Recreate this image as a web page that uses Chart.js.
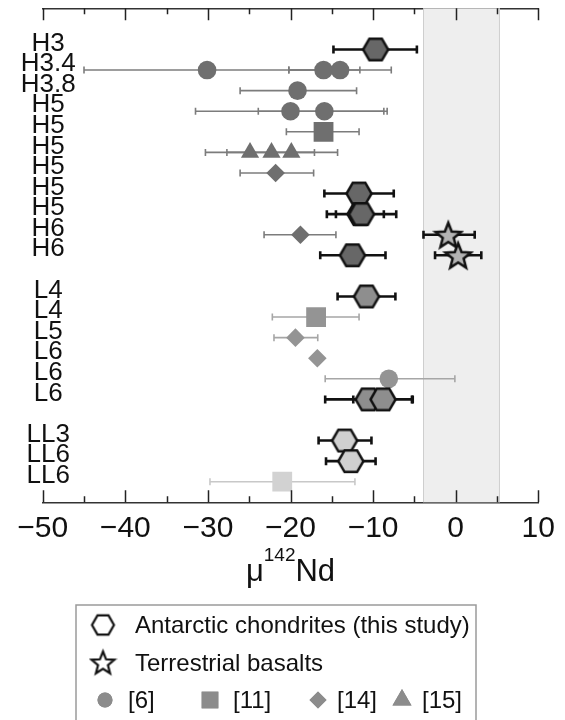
<!DOCTYPE html>
<html>
<head>
<meta charset="utf-8">
<script src="https://cdn.jsdelivr.net/npm/chart.js@4.4.1/dist/chart.umd.min.js"></script>
<style>
  html, body { margin: 0; padding: 0; background: #fff; }
  #chartCanvas { display: block; }
</style>
</head>
<body>
<canvas id="chartCanvas" width="565" height="720"></canvas>
<script>
// Row labels, top to bottom ('' = gap row between groups)
const rowLabels = ['H3', 'H3.4', 'H3.8', 'H5', 'H5', 'H5', 'H5', 'H5', 'H5', 'H6', 'H6', '',
                   'L4', 'L4', 'L5', 'L6', 'L6', 'L6', '', 'LL3', 'LL6', 'LL6'];

// x axis range and tick step
const xMin = -50, xMax = 10, xStep = 5;

// shaded terrestrial range
const bandLo = -3.9, bandHi = 5.3;

// Antarctic chondrites (this study)
const hexRows = [0, 7, 8, 8, 10, 12, 17, 17, 19, 20];
const hexVals = [-9.7, -11.7, -11.6, -11.4, -12.5, -10.8, -10.6, -8.8, -13.45, -12.7];
const hexLo   = [-14.8, -15.9, -14.5, -15.6, -16.4, -14.3, -15.8, -12.4, -16.6, -15.7];
const hexHi   = [-4.7, -7.5, -8.7, -7.2, -8.5, -7.3, -5.3, -5.2, -10.2, -9.7];

// Terrestrial basalts
const starRows = [9, 10];
const starVals = [-0.9, 0.3];
const starLo   = [-3.9, -2.5];
const starHi   = [2.3, 3.1];

// [6]
const circRows = [1, 1, 1, 2, 3, 3, 16];
const circVals = [-30.1, -16.0, -14.0, -19.15, -20.0, -15.9, -8.1];
const circLo   = [-45.0, -20.2, -20.2, -26.1, -31.5, -23.9, -15.8];
const circHi   = [-15.2, -11.6, -7.8, -12.0, -8.7, -8.3, -0.1];

// [11]
const sqRows = [4, 13, 21];
const sqVals = [-16.0, -16.9, -21.0];
const sqLo   = [-20.5, -22.2, -29.75];
const sqHi   = [-11.7, -11.7, -12.2];

// [14]
const diaRows = [6, 9, 14, 15];
const diaVals = [-21.8, -18.8, -19.4, -16.75];
const diaLo   = [-26.1, -23.2, -22.0, null];
const diaHi   = [-17.2, -14.5, -16.7, null];

// [15]
const triRows = [5, 5, 5];
const triVals = [-24.9, -22.3, -19.9];
const triLo   = [-27.7, -30.3, -22.7];
const triHi   = [-22.1, -14.3, -17.1];

const FONT = "'Liberation Sans', Arial, Helvetica, sans-serif";

// chondrite class of a row -> grey shade
function rowClass(r) {
    const l = rowLabels[Math.round(r)] || '';
    return l.startsWith('LL') ? 'LL' : l.charAt(0);
}
const litFill  = { H: '#6f6f6f', L: '#949494', LL: '#d2d2d2' };
const litErr   = { H: '#7c7c7c', L: '#a6a6a6', LL: '#c8c8c8' };
const hexFill  = { H: '#676767', L: '#8e8e8e', LL: '#d0d0d0' };

// hexagon / star marker images (Chart.js has no such point styles)
function makeHex(fill, R, lw) {
    const c = document.createElement('canvas');
    const s = Math.ceil(2 * R + lw + 2);
    c.width = c.height = s;
    const g = c.getContext('2d');
    g.beginPath();
    for (let k = 0; k < 6; k++) {
        const a = k * Math.PI / 3;
        g.lineTo(s / 2 + R * Math.cos(a), s / 2 + R * Math.sin(a));
    }
    g.closePath();
    g.fillStyle = fill;
    g.fill();
    g.lineWidth = lw;
    g.strokeStyle = '#111';
    g.stroke();
    return c;
}
function makeStar(fill, R, r, lw) {
    const c = document.createElement('canvas');
    const s = Math.ceil(2 * R + lw + 2);
    c.width = c.height = s;
    const g = c.getContext('2d');
    g.beginPath();
    for (let k = 0; k < 10; k++) {
        const a = -Math.PI / 2 + k * Math.PI / 5;
        const rr = k % 2 ? r : R;
        g.lineTo(s / 2 + rr * Math.cos(a), s / 2 + 1.5 + rr * Math.sin(a));
    }
    g.closePath();
    g.fillStyle = fill;
    g.fill();
    g.lineWidth = lw;
    g.strokeStyle = '#111';
    g.stroke();
    return c;
}
const hexImg = { H: makeHex(hexFill.H, 12.5, 2.5), L: makeHex(hexFill.L, 12.5, 2.5), LL: makeHex(hexFill.LL, 12.5, 2.5) };
const starImg = makeStar('#b3b3b3', 13.5, 5.8, 2.5);
const hexLegend = makeHex('#fff', 11, 2.2);
const starLegend = makeStar('#fff', 12, 5.2, 2.2);

function points(rows, vals) {
    return rows.map((r, i) => ({ x: vals[i], y: r }));
}
// error bar segments, separated by null points
function bars(rows, lo, hi) {
    const out = [];
    rows.forEach((r, i) => {
        if (lo[i] === null) return;
        out.push({ x: lo[i], y: r }, { x: hi[i], y: r }, { x: null, y: null });
    });
    return out;
}

function litMarker(label, rows, vals, style, radius) {
    return {
        label: label,
        data: points(rows, vals),
        pointStyle: style,
        pointRadius: radius,
        pointBackgroundColor: rows.map(r => litFill[rowClass(r)]),
        pointBorderWidth: 0,
        order: 2
    };
}
function litBars(rows, lo, hi) {
    return {
        data: bars(rows, lo, hi),
        showLine: true,
        spanGaps: false,
        borderWidth: 1.6,
        segment: { borderColor: c => litErr[rowClass(c.p0.parsed.y)] },
        pointStyle: 'line',
        pointRotation: 90,
        pointRadius: 3.5,
        pointBorderWidth: 1.6,
        pointBorderColor: c => c.raw && c.raw.y !== null ? litErr[rowClass(c.raw.y)] : '#999',
        order: 3
    };
}

const datasets = [
    {
        label: 'Antarctic chondrites (this study)',
        data: points(hexRows, hexVals),
        pointStyle: hexRows.map(r => hexImg[rowClass(r)]),
        order: 0
    },
    {
        label: 'Terrestrial basalts',
        data: points(starRows, starVals),
        pointStyle: starImg,
        order: 0
    },
    litMarker('[6]', circRows, circVals, 'circle', 9.3),
    litMarker('[11]', sqRows, sqVals, 'rect', 14),
    litMarker('[14]', diaRows, diaVals, 'rectRot', 9.3),
    litMarker('[15]', triRows, triVals, 'triangle', 10.5),
    {
        data: bars(hexRows.concat(starRows), hexLo.concat(starLo), hexHi.concat(starHi)),
        showLine: true,
        spanGaps: false,
        borderColor: '#111',
        borderWidth: 2.6,
        pointStyle: 'line',
        pointRotation: 90,
        pointRadius: 4,
        pointBorderWidth: 2.6,
        pointBorderColor: '#111',
        order: 1
    },
    litBars(circRows, circLo, circHi),
    litBars(sqRows, sqLo, sqHi),
    litBars(diaRows, diaLo, diaHi),
    litBars(triRows, triLo, triHi)
];

// grey band behind the data
const bandPlugin = {
    id: 'band',
    beforeDatasetsDraw(chart) {
        const { ctx, chartArea: a, scales: { x } } = chart;
        const x0 = x.getPixelForValue(bandLo), x1 = x.getPixelForValue(bandHi);
        ctx.save();
        ctx.fillStyle = '#eeeeee';
        ctx.fillRect(x0, a.top, x1 - x0, a.bottom - a.top);
        ctx.strokeStyle = '#cfcfcf';
        ctx.lineWidth = 1;
        ctx.beginPath();
        ctx.moveTo(x0, a.top); ctx.lineTo(x0, a.bottom);
        ctx.moveTo(x1, a.top); ctx.lineTo(x1, a.bottom);
        ctx.stroke();
        ctx.restore();
    }
};

// inward tick marks on top and bottom axes, axis title and legend box
const decoPlugin = {
    id: 'deco',
    afterDraw(chart) {
        const { ctx, chartArea: a, scales: { x } } = chart;
        ctx.save();
        ctx.strokeStyle = '#222';
        ctx.lineWidth = 1.5;
        ctx.beginPath();
        x.ticks.forEach(t => {
            const px = Math.round(x.getPixelForValue(t.value)) + 0.5;
            const len = t.value % 10 === 0 ? 12 : 6;
            ctx.moveTo(px, a.top); ctx.lineTo(px, a.top + len);
            ctx.moveTo(px, a.bottom); ctx.lineTo(px, a.bottom - len);
        });
        ctx.stroke();

        // axis title: μ¹⁴²Nd
        const cx = (a.left + a.right) / 2, base = 581;
        ctx.fillStyle = '#111';
        ctx.textBaseline = 'alphabetic';
        ctx.textAlign = 'left';
        const big = '31px ' + FONT, small = '19px ' + FONT;
        ctx.font = big; const wMu = ctx.measureText('\u03bc').width, wNd = ctx.measureText('Nd').width;
        ctx.font = small; const wSup = ctx.measureText('142').width;
        let tx = cx - (wMu + wSup + wNd) / 2;
        ctx.font = big; ctx.fillText('\u03bc', tx, base); tx += wMu;
        ctx.font = small; ctx.fillText('142', tx, base - 20); tx += wSup;
        ctx.font = big; ctx.fillText('Nd', tx, base);

        // legend box
        ctx.strokeStyle = '#9a9a9a';
        ctx.lineWidth = 1.5;
        ctx.strokeRect(76, 605, 400, 130);
        ctx.font = '24px ' + FONT;
        ctx.textBaseline = 'middle';
        ctx.drawImage(hexLegend, 103 - hexLegend.width / 2, 625 - hexLegend.height / 2);
        ctx.fillText(datasets[0].label, 135, 626);
        ctx.drawImage(starLegend, 103 - starLegend.width / 2, 662 - starLegend.height / 2);
        ctx.fillText(datasets[1].label, 135, 664);
        const gray = '#8c8c8c';
        const items = [['circle', 7.5, 105, 128], ['rect', 11.8, 210, 233], ['rectRot', 8.5, 318, 337], ['triangle', 11, 402, 422]];
        items.forEach((it, i) => {
            ctx.fillStyle = gray;
            Chart.helpers.drawPoint(ctx, { pointStyle: it[0], radius: it[1], borderWidth: 0 }, it[2], 700);
            ctx.fill();
            ctx.fillStyle = '#111';
            ctx.fillText(datasets[2 + i].label, it[3], 701);
        });
        ctx.restore();
    }
};

const ctx = document.getElementById('chartCanvas').getContext('2d');
const chart = new Chart(ctx, {
    type: 'scatter',
    data: { datasets: datasets },
    plugins: [bandPlugin, decoPlugin],
    options: {
        responsive: false,
        animation: false,
        layout: { autoPadding: false, padding: { left: 0, right: 26.7, top: 0, bottom: 0 } },
        plugins: { legend: { display: false }, tooltip: { enabled: false } },
        scales: {
            x: {
                type: 'linear',
                position: 'bottom',
                min: xMin,
                max: xMax,
                ticks: {
                    stepSize: xStep,
                    autoSkip: false,
                    maxRotation: 0,
                    padding: 8,
                    color: '#111',
                    font: { family: FONT, size: 30 },
                    callback: v => v % 10 !== 0 ? '' : (v < 0 ? '\u2212' + Math.abs(v) : String(v))
                },
                grid: { display: false, drawTicks: false },
                border: { display: true, color: '#333', width: 1.6 },
                afterFit(s) { s.height = 720 - 502.3; s.paddingLeft = 0; s.paddingRight = 0; }
            },
            x2: {
                type: 'linear',
                position: 'top',
                min: xMin,
                max: xMax,
                ticks: { display: false },
                grid: { display: false, drawTicks: false },
                border: { display: true, color: '#333', width: 1.6 },
                afterFit(s) { s.height = 8.3; }
            },
            y: {
                type: 'linear',
                min: -2,
                max: 22,
                reverse: true,
                afterBuildTicks(s) {
                    s.ticks = rowLabels.map((l, i) => ({ value: i, label: l })).filter(t => t.label !== '')
                        .map(t => ({ value: t.value }));
                },
                ticks: {
                    autoSkip: false,
                    mirror: true,
                    crossAlign: 'center',
                    padding: -22,
                    labelOffset: -6,
                    color: '#111',
                    font: { family: FONT, size: 26 },
                    callback: v => rowLabels[v]
                },
                grid: { display: false, drawTicks: false },
                border: { display: false },
                afterFit(s) { s.width = 42.7; s.paddingTop = 0; s.paddingBottom = 0; }
            }
        }
    }
});
</script>
</body>
</html>
